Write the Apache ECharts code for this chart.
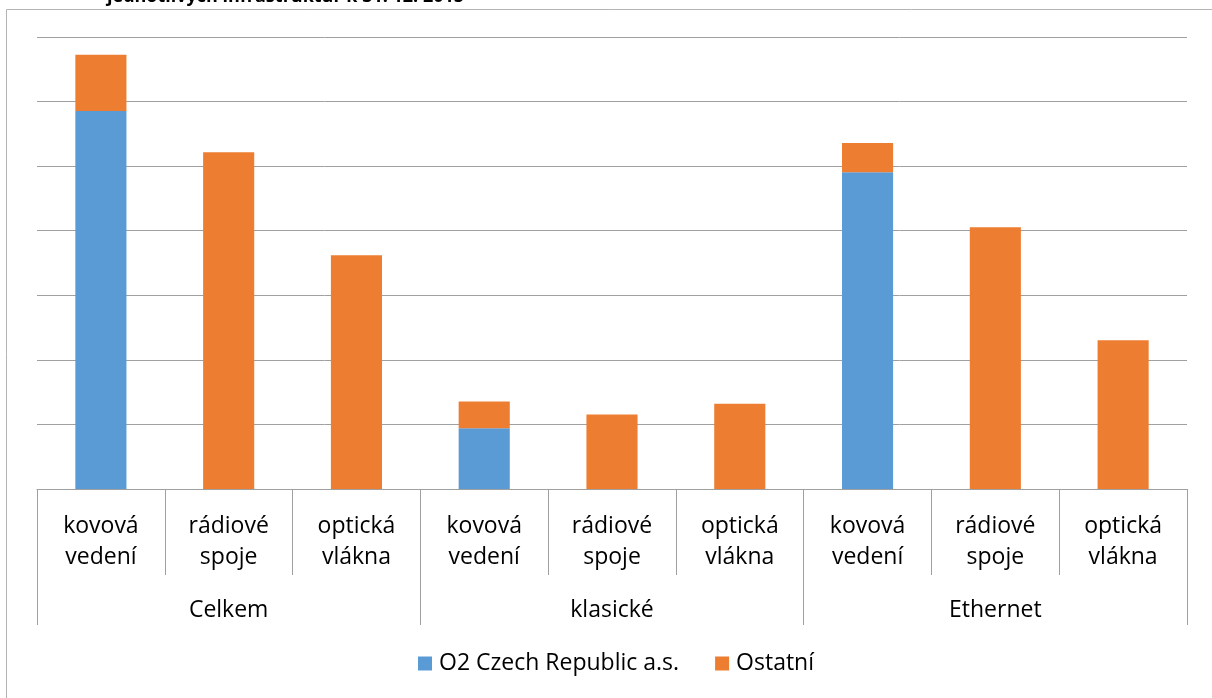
<!DOCTYPE html>
<html>
<head>
    <meta charset="utf-8">
    <title>Infrastruktury</title>
    <script src="https://cdn.jsdelivr.net/npm/echarts@6/dist/echarts.min.js"></script>
    <style>
        html, body { margin: 0; padding: 0; background: #fff; }
        #chart { width: 1212px; height: 698px; }
    </style>
</head>
<body>
    <div id="chart"></div>
    <script>
        // kategorie a hodnoty
        var typy = ['kovová\nvedení', 'rádiové\nspoje', 'optická\nvlákna',
                    'kovová\nvedení', 'rádiové\nspoje', 'optická\nvlákna',
                    'kovová\nvedení', 'rádiové\nspoje', 'optická\nvlákna'];
        var skupiny = ['Celkem', 'klasické', 'Ethernet'];
        var o2 = [1171, 0, 0, 188, 0, 0, 981, 0, 0];
        var ostatni = [174, 1043, 724, 83, 231, 264, 91, 811, 461];
        var nazvy = ['O2 Czech Republic a.s.', 'Ostatní'];

        var font = 'Open Sans';
        var seda = '#a0a0a0';

        var chart = echarts.init(document.getElementById('chart'));
        var option = {
            animation: false,
            textStyle: { fontFamily: font },
            title: {
                text: 'jednotlivých infrastruktur k 31. 12. 2015',
                left: 102,
                top: -17,
                textStyle: { fontSize: 18, fontWeight: 'bold', color: '#000', fontFamily: font }
            },
            graphic: [{
                type: 'rect',
                shape: { x: 6.5, y: 9.5, width: 1300, height: 800 },
                style: { fill: null, stroke: '#b4b4b4', lineWidth: 1 },
                silent: true
            }],
            legend: {
                data: nazvy,
                bottom: 18,
                left: 413,
                icon: 'rect',
                itemWidth: 14,
                itemHeight: 14,
                itemGap: 36,
                textStyle: { fontSize: 23, color: '#000', fontFamily: font, padding: [0, 0, 0, 2] }
            },
            grid: { left: 37, right: 25, top: 37, bottom: 209 },
            xAxis: [
                {
                    type: 'category',
                    position: 'bottom',
                    data: typy,
                    axisLine: { lineStyle: { color: seda } },
                    axisTick: { show: true, interval: 0, length: 86, lineStyle: { color: seda } },
                    axisLabel: {
                        interval: 0, margin: 22, fontSize: 23, lineHeight: 31,
                        color: '#000', fontFamily: font
                    }
                },
                {
                    type: 'category',
                    position: 'bottom',
                    data: skupiny,
                    axisLine: { show: false },
                    axisTick: { show: true, interval: 0, length: 136, lineStyle: { color: seda } },
                    axisLabel: {
                        interval: 0, margin: 110, fontSize: 23,
                        color: '#000', fontFamily: font
                    }
                }
            ],
            yAxis: {
                type: 'value',
                min: 0,
                max: 1400,
                interval: 200,
                axisLabel: { show: false },
                axisLine: { show: false },
                axisTick: { show: false },
                splitLine: { lineStyle: { color: seda } }
            },
            series: [
                {
                    name: nazvy[0],
                    type: 'bar',
                    stack: 'a',
                    barWidth: '40%',
                    xAxisIndex: 0,
                    itemStyle: { color: '#5b9bd5' },
                    data: o2
                },
                {
                    name: nazvy[1],
                    type: 'bar',
                    stack: 'a',
                    barWidth: '40%',
                    xAxisIndex: 0,
                    itemStyle: { color: '#ed7d31' },
                    data: ostatni
                }
            ]
        };
        chart.setOption(option);
    </script>
</body>
</html>
